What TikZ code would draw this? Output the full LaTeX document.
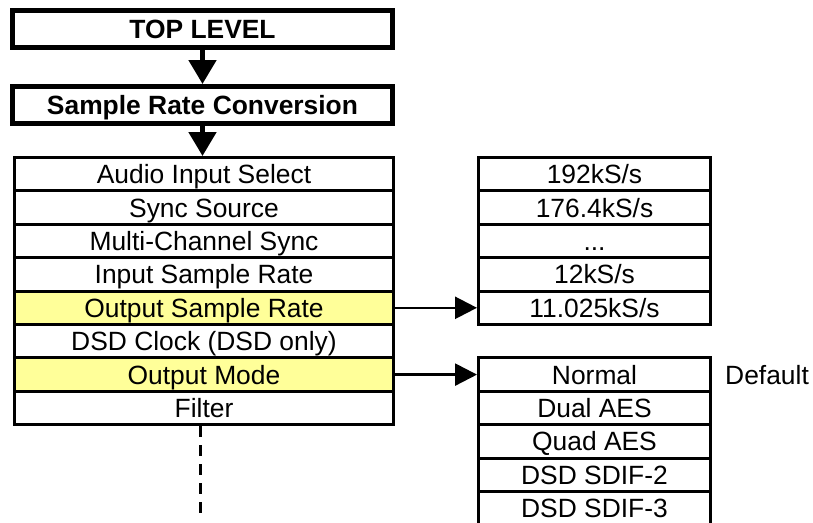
\documentclass[tikz,border=0pt]{standalone}
\usepackage{fontspec}
\setmainfont{Liberation Sans}
\usetikzlibrary{arrows.meta}
\definecolor{hl}{RGB}{255,255,153}
\begin{document}
\begin{tikzpicture}[x=1pt,y=-1pt,
  txt/.style={font=\fontsize{26.4}{30}\selectfont, text height=18.9pt, text depth=0pt, inner sep=0pt},
  headbox/.style={txt, draw, line width=5pt, minimum width=380pt, minimum height=37pt, font=\fontsize{26.4}{30}\selectfont\bfseries},
  rowbox/.style={txt, draw, line width=3pt, minimum width=379pt, minimum height=33.4pt},
  optbox/.style={txt, draw, line width=3pt, minimum width=232pt, minimum height=33.4pt},
  hilite/.style={fill=hl},
  bigarrow/.style={line width=5pt, -{Triangle[length=24pt,width=27pt]}},
  smallarrow/.style={line width=2.5pt, -{Triangle[length=22pt,width=22pt]}}
]
\clip (0,0) rectangle (813,522);
\fill[white] (0,0) rectangle (813,522);

\node[headbox] (top) at (202.5,29) {TOP LEVEL};
\node[headbox] (src) at (202.5,105) {Sample Rate Conversion};

\node[rowbox] (l1) at (204,174.2) {Audio Input Select};
\node[rowbox] (l2) at (204,207.6) {Sync Source};
\node[rowbox] (l3) at (204,241.0) {Multi-Channel Sync};
\node[rowbox] (l4) at (204,274.4) {Input Sample Rate};
\node[rowbox, hilite] (l5) at (204,307.8) {Output Sample Rate};
\node[rowbox] (l6) at (204,341.2) {DSD Clock (DSD only)};
\node[rowbox, hilite] (l7) at (204,374.6) {Output Mode};
\node[rowbox] (l8) at (204,408.0) {Filter};

\node[optbox] (a1) at (594.5,174.2) {192kS/s};
\node[optbox] (a2) at (594.5,207.6) {176.4kS/s};
\node[optbox] (a3) at (594.5,241.0) {...};
\node[optbox] (a4) at (594.5,274.4) {12kS/s};
\node[optbox] (a5) at (594.5,307.8) {11.025kS/s};

\node[optbox] (b1) at (594.5,374.6) {Normal};
\node[optbox] (b2) at (594.5,408.0) {Dual AES};
\node[optbox] (b3) at (594.5,441.4) {Quad AES};
\node[optbox] (b4) at (594.5,474.8) {DSD SDIF-2};
\node[optbox] (b5) at (594.5,508.2) {DSD SDIF-3};

\node[txt, anchor=west] (def) at (725,374.6) {Default};

\draw[bigarrow] (top.south) -- (src.north);
\draw[bigarrow] (src.south) -- (src.south |- l1.north);
\draw[smallarrow] (l5.east) -- (a5.west);
\draw[smallarrow] (l7.east) -- (b1.west);

\coordinate (dend) at (200,513);
\draw[line width=3pt, dash pattern=on 11pt off 8pt] (l8.south -| dend) -- (dend);
\end{tikzpicture}
\end{document}
